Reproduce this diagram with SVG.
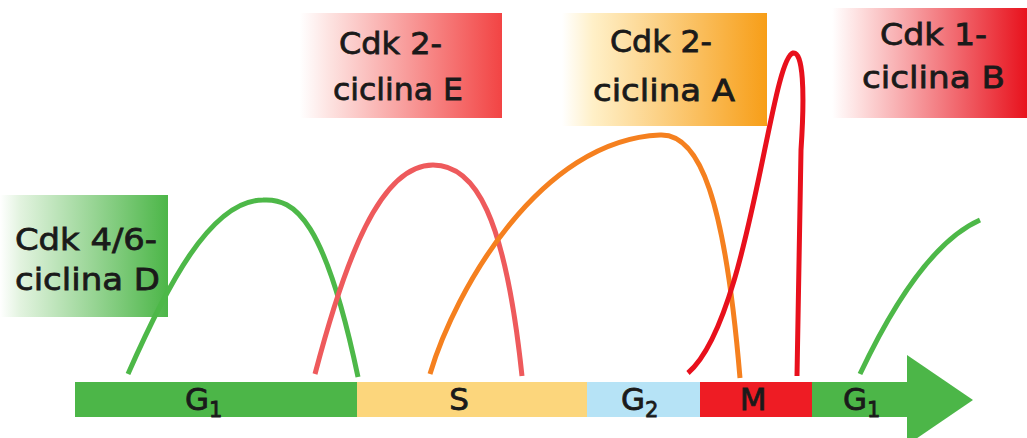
<svg xmlns="http://www.w3.org/2000/svg" width="1027" height="438" viewBox="0 0 1027 438">
<defs>
<linearGradient id="gD" x1="0" y1="0" x2="1" y2="0"><stop offset="0" stop-color="#ffffff"/><stop offset="0.12" stop-color="#e2f3df"/><stop offset="1" stop-color="#4cb648"/></linearGradient>
<linearGradient id="gE" x1="0" y1="0" x2="1" y2="0"><stop offset="0" stop-color="#ffffff"/><stop offset="0.15" stop-color="#fde2e0"/><stop offset="1" stop-color="#f24444"/></linearGradient>
<linearGradient id="gA" x1="0" y1="0" x2="1" y2="0"><stop offset="0" stop-color="#ffffff"/><stop offset="0.15" stop-color="#fff0c8"/><stop offset="1" stop-color="#f79e18"/></linearGradient>
<linearGradient id="gB" x1="0" y1="0" x2="1" y2="0"><stop offset="0" stop-color="#ffffff"/><stop offset="0.15" stop-color="#fddcdc"/><stop offset="1" stop-color="#e8121d"/></linearGradient>
<style>
.lbl{font-family:"DejaVu Sans","Verdana",sans-serif;font-size:31px;fill:#1a1a1a;stroke:#1a1a1a;stroke-width:0.8px;}
.ph{font-family:"DejaVu Sans","Verdana",sans-serif;font-size:31px;fill:#1a1a1a;stroke:#1a1a1a;stroke-width:0.8px;}
.sub{font-size:21px;}
.c{fill:none;stroke-width:5;stroke-linecap:butt;}
</style>
</defs>
<rect width="1027" height="438" fill="#ffffff"/>

<g id="box-cdk46-ciclinaD">
<rect x="0" y="195" width="168" height="122" fill="url(#gD)"/>
<text class="lbl" x="15" y="250" textLength="142" lengthAdjust="spacingAndGlyphs">Cdk 4/6-</text>
<text class="lbl" x="15" y="290" textLength="145" lengthAdjust="spacingAndGlyphs">ciclina D</text>
</g>
<g id="box-cdk2-ciclinaE">
<rect x="300" y="13" width="202" height="105" fill="url(#gE)"/>
<text class="lbl" x="339" y="54" textLength="103" lengthAdjust="spacingAndGlyphs">Cdk 2-</text>
<text class="lbl" x="333" y="100" textLength="130" lengthAdjust="spacingAndGlyphs">ciclina E</text>
</g>
<g id="box-cdk2-ciclinaA">
<rect x="562" y="13" width="205" height="113" fill="url(#gA)"/>
<text class="lbl" x="610" y="52" textLength="102" lengthAdjust="spacingAndGlyphs">Cdk 2-</text>
<text class="lbl" x="593" y="101" textLength="142" lengthAdjust="spacingAndGlyphs">ciclina A</text>
</g>
<g id="box-cdk1-ciclinaB">
<rect x="832" y="8" width="195" height="110" fill="url(#gB)"/>
<text class="lbl" x="880" y="45" textLength="107" lengthAdjust="spacingAndGlyphs">Cdk 1-</text>
<text class="lbl" x="862" y="88" textLength="143" lengthAdjust="spacingAndGlyphs">ciclina B</text>
</g>

<g id="phase-G1">
<rect x="75" y="382" width="282" height="35" fill="#4cb648"/>
<text class="ph" x="185" y="410">G<tspan class="sub" dy="7">1</tspan></text>
</g>
<g id="phase-S">
<rect x="357" y="382" width="230" height="35" fill="#fcd67c"/>
<text class="ph" x="459" y="410" text-anchor="middle">S</text>
</g>
<g id="phase-G2">
<rect x="587" y="382" width="113" height="35" fill="#b6e3f6"/>
<text class="ph" x="621" y="410">G<tspan class="sub" dy="7">2</tspan></text>
</g>
<g id="phase-M">
<rect x="700" y="382" width="112" height="35" fill="#ee1c24"/>
<text class="ph" x="753" y="410" text-anchor="middle">M</text>
</g>
<g id="phase-G1-next">
<rect x="812" y="382" width="96" height="35" fill="#4cb648"/>
<polygon points="907,355 973,400 907,445" fill="#4cb648"/>
<text class="ph" x="843" y="410">G<tspan class="sub" dy="7">1</tspan></text>
</g>

<g id="curves">
<path class="c" stroke="#4db848" d="M128,374 C165,290 210,200 263,200 C295,198 325,220 358,377"/>
<path class="c" stroke="#ee5a5c" d="M315,374 C345,260 380,165 433,165 C475,165 505,215 522,376"/>
<path class="c" stroke="#f5801f" d="M430,374 C455,290 540,140 660,135 C700,133 725,200 740,378"/>
<path class="c" stroke="#e8101c" stroke-width="6" d="M688,373 C750,320 770,60 793,53 C803,51 805,90 801,150 L797,376"/>
<path class="c" stroke="#4db848" d="M860,374 C895,300 935,240 980,220"/>
</g>
</svg>
